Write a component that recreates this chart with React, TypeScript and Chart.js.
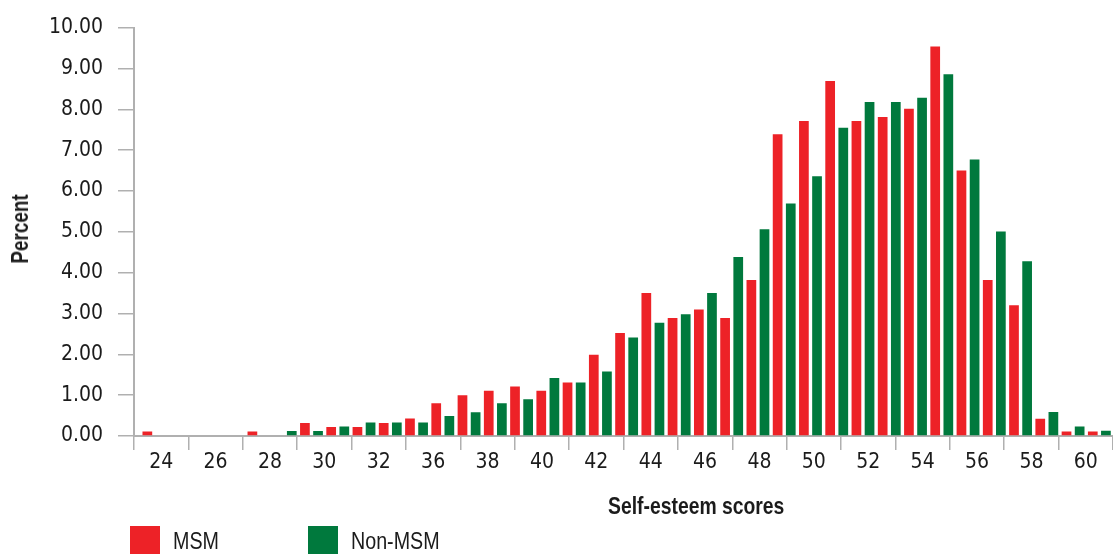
import React, { useEffect, useRef } from "react";
import { Chart, registerables } from "chart.js";

Chart.register(...registerables);

// ---- data ----
const scores = [
  24, 25, 26, 27, 28, 29, 30, 31, 32, 33, 34, 35, 36, 37, 38, 39, 40, 41, 42,
  43, 44, 45, 46, 47, 48, 49, 50, 51, 52, 53, 54, 55, 56, 57, 58, 59, 60,
];
const msmPercent = [
  0.11, 0, 0, 0, 0.11, 0, 0.32, 0.22, 0.22, 0.32, 0.43, 0.8, 1.0, 1.11, 1.21,
  1.11, 1.31, 1.99, 2.52, 3.5, 2.89, 3.1, 2.89, 3.82, 7.39, 7.71, 8.69, 7.71,
  7.81, 8.01, 9.54, 6.5, 3.82, 3.2, 0.42, 0.11, 0.11,
];
const nonMsmPercent = [
  0, 0, 0, 0, 0, 0.12, 0.12, 0.23, 0.33, 0.33, 0.33, 0.49, 0.58, 0.8, 0.9,
  1.42, 1.31, 1.58, 2.41, 2.77, 2.98, 3.5, 4.38, 5.06, 5.69, 6.36, 7.55, 8.18,
  8.18, 8.28, 8.86, 6.77, 5.01, 4.28, 0.59, 0.23, 0.13,
];
const axisLabels = [
  "24", "26", "28", "30", "32", "36", "38", "40", "42", "44", "46", "48", "50",
  "52", "54", "56", "58", "60",
];
const seriesNames = ["MSM", "Non-MSM"];
const seriesColors = ["#ED2227", "#00793D"];
const yMin = 0;
const yMax = 10;
const yStep = 1;
const xTitle = "Self-esteem scores";
const yTitle = "Percent";

const TICK_FONT = '"DejaVu Sans Condensed", "Liberation Sans", sans-serif';
const HTML_FONT = '"Liberation Sans", Arial, sans-serif';
const TEXT = "#1b1b1b";
const AXIS = "#b0b0b0";

export default function App() {
  const canvasRef = useRef<HTMLCanvasElement | null>(null);

  useEffect(() => {
    const canvas = canvasRef.current;
    if (!canvas) return;
    const chart = new Chart(canvas, {
      type: "bar",
      data: {
        datasets: [
          {
            label: seriesNames[0],
            data: scores.map((s, i) => ({ x: s, y: msmPercent[i] })),
            backgroundColor: seriesColors[0],
            xAxisID: "x",
            yAxisID: "y",
            categoryPercentage: 1,
            barPercentage: 0.74,
          },
          {
            label: seriesNames[1],
            data: scores.map((s, i) => ({ x: s, y: nonMsmPercent[i] })),
            backgroundColor: seriesColors[1],
            xAxisID: "x",
            yAxisID: "y",
            categoryPercentage: 1,
            barPercentage: 0.74,
          },
        ],
      },
      options: {
        responsive: false,
        animation: false,
        devicePixelRatio: 1,
        layout: { padding: { top: 25, left: 0, right: 0, bottom: 0 } },
        plugins: {
          legend: { display: false },
          tooltip: { enabled: false },
        },
        scales: {
          x: {
            type: "linear",
            display: false,
            offset: false,
            min: 23.242,
            max: 60.52,
            grid: { offset: false },
          },
          x2: {
            type: "category",
            position: "bottom",
            labels: axisLabels,
            offset: true,
            grid: {
              offset: true,
              drawOnChartArea: false,
              tickLength: 14,
              color: AXIS,
              lineWidth: 1.5,
            },
            border: { display: true, color: AXIS, width: 2 },
            ticks: {
              font: { family: TICK_FONT, size: 21 },
              color: TEXT,
              padding: 0,
              autoSkip: false,
              maxRotation: 0,
            },
            afterFit: (s: any) => {
              s.height = 554 - 436;
            },
          },
          y: {
            type: "linear",
            min: yMin,
            max: yMax,
            ticks: {
              stepSize: yStep,
              callback: (v: any) => Number(v).toFixed(2),
              font: { family: TICK_FONT, size: 21 },
              color: TEXT,
              padding: 15,
            },
            grid: {
              drawOnChartArea: false,
              tickLength: 16,
              color: AXIS,
              lineWidth: 1.5,
            },
            border: { display: true, color: AXIS, width: 2 },
            title: { display: false },
            afterFit: (s: any) => {
              s.width = 134;
            },
          },
        },
      },
    });
    return () => chart.destroy();
  }, []);

  const legendItem = (i: number, left: number) => (
    <div
      key={i}
      style={{
        position: "absolute",
        left,
        top: 526,
        height: 30,
        display: "flex",
        alignItems: "center",
        whiteSpace: "nowrap",
      }}
    >
      <span
        style={{
          display: "inline-block",
          width: 30,
          height: 30,
          background: seriesColors[i],
          marginRight: 13,
        }}
      />
      <span
        style={{
          display: "inline-block",
          fontFamily: HTML_FONT,
          fontSize: 24,
          lineHeight: "30px",
          color: TEXT,
          transform: "scaleX(0.82)",
          transformOrigin: "left center",
        }}
      >
        {seriesNames[i]}
      </span>
    </div>
  );

  return (
    <div
      style={{
        position: "fixed",
        left: 0,
        top: 0,
        width: 1113,
        height: 554,
        overflow: "hidden",
        background: "#fff",
      }}
    >
      <canvas
        ref={canvasRef}
        width={1113}
        height={554}
        style={{ width: 1113, height: 554, display: "block" }}
      />
      <div
        style={{
          position: "absolute",
          left: 608,
          top: 494,
          fontFamily: HTML_FONT,
          fontWeight: "bold",
          fontSize: 23.6,
          lineHeight: "24px",
          color: TEXT,
          whiteSpace: "nowrap",
          transform: "scaleX(0.82)",
          transformOrigin: "left center",
        }}
      >
        {xTitle}
      </div>
      <div
        style={{
          position: "absolute",
          left: 20,
          top: 229,
          fontFamily: HTML_FONT,
          fontWeight: "bold",
          fontSize: 23,
          lineHeight: "24px",
          color: TEXT,
          whiteSpace: "nowrap",
          transform: "translate(-50%, -50%) rotate(-90deg) scaleX(0.82)",
        }}
      >
        {yTitle}
      </div>
      {legendItem(0, 130)}
      {legendItem(1, 308)}
    </div>
  );
}
